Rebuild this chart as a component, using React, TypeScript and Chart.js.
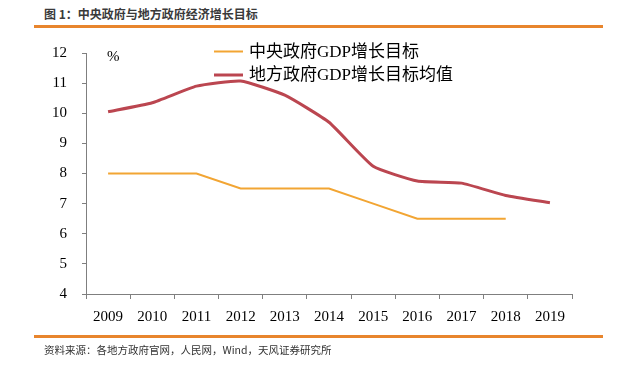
import React, { useEffect, useRef } from "react";
import { Chart, registerables } from "chart.js";

Chart.register(...registerables);

const years = ["2009", "2010", "2011", "2012", "2013", "2014", "2015", "2016", "2017", "2018", "2019"];
const centralTarget = [8, 8, 8, 7.5, 7.5, 7.5, 7, 6.5, 6.5, 6.5, null];
const localTargetAvg = [10.05, 10.35, 10.9, 11.07, 10.6, 9.7, 8.24, 7.75, 7.68, 7.27, 7.03];
const centralLabel = "中央政府GDP增长目标";
const localLabel = "地方政府GDP增长目标均值";
const yTicks = [4, 5, 6, 7, 8, 9, 10, 11, 12];

const ORANGE = "#F2A533";
const RED = "#BB4650";
const AXIS = "#7f7f7f";
const SERIF = "'Liberation Serif', 'Noto Sans CJK SC', serif";

const overlayPlugin = {
  id: "overlay",
  afterDraw(chart: any) {
    const ctx = chart.ctx;
    const area = chart.chartArea;
    ctx.save();
    // unit label
    ctx.fillStyle = "#000";
    ctx.font = "15px " + SERIF;
    ctx.textBaseline = "middle";
    ctx.textAlign = "left";
    ctx.fillText("%", area.left + 21, area.top + 4);
    // legend
    const items = chart.data.datasets.map((d: any) => ({ label: d.label, color: d.borderColor, w: d.borderWidth }));
    items.forEach((it: any, i: number) => {
      const y = area.top - 1.5 + i * 23.5;
      ctx.strokeStyle = it.color;
      ctx.lineWidth = it.w;
      ctx.beginPath();
      ctx.moveTo(area.left + 128, y);
      ctx.lineTo(area.left + 157, y);
      ctx.stroke();
      ctx.fillStyle = "#000";
      ctx.font = "17px " + SERIF;
      ctx.fillText(it.label, area.left + 163, y + 1);
    });
    ctx.restore();
  },
};

function ChartBox() {
  const ref = useRef<HTMLCanvasElement>(null);
  useEffect(() => {
    if (!ref.current) return;
    const chart = new Chart(ref.current, {
      type: "line",
      data: {
        labels: years,
        datasets: [
          {
            label: centralLabel,
            data: centralTarget,
            borderColor: ORANGE,
            backgroundColor: ORANGE,
            borderWidth: 2,
            pointRadius: 0,
            tension: 0,
            spanGaps: false,
          },
          {
            label: localLabel,
            data: localTargetAvg,
            borderColor: RED,
            backgroundColor: RED,
            borderWidth: 3,
            pointRadius: 0,
            tension: 0.15,
          },
        ],
      },
      options: {
        responsive: false,
        animation: false,
        maintainAspectRatio: false,
        layout: { padding: { left: 0, right: 55, top: 53, bottom: 0 } },
        plugins: { legend: { display: false }, tooltip: { enabled: false } },
        scales: {
          x: {
            type: "category",
            offset: true,
            grid: { offset: true, drawOnChartArea: false, drawTicks: true, tickLength: 5, color: AXIS },
            border: { color: AXIS, width: 1 },
            ticks: { color: "#000", font: { family: SERIF, size: 15 }, padding: 9, maxRotation: 0, autoSkip: false },
            afterFit: (s: any) => {
              s.height = 72;
            },
          },
          y: {
            min: 4,
            max: 12,
            afterBuildTicks: (s: any) => {
              s.ticks = yTicks.map((v) => ({ value: v }));
            },
            grid: { drawOnChartArea: false, drawTicks: true, tickLength: 4, color: AXIS },
            border: { color: AXIS, width: 1 },
            ticks: { color: "#000", font: { family: SERIF, size: 15 }, padding: 15 },
            afterFit: (s: any) => {
              s.width = 86;
            },
          },
        },
      },
      plugins: [overlayPlugin],
    } as any);
    return () => chart.destroy();
  }, []);
  return <canvas ref={ref} width={627} height={366} style={{ position: "absolute", left: 0, top: 0, width: 627, height: 366 }} />;
}

export default function App() {
  return (
    <div style={{ position: "fixed", left: 0, top: 0, width: 627, height: 366, background: "#fff", overflow: "hidden" }}>
      <div
        style={{
          position: "absolute",
          left: 44,
          top: 6,
          lineHeight: "16px",
          fontSize: 12,
          fontWeight: "bold",
          color: "#3a3a3a",
          fontFamily: "'Noto Sans CJK SC', sans-serif",
          whiteSpace: "nowrap",
        }}
      >
        图 1：中央政府与地方政府经济增长目标
      </div>
      <div style={{ position: "absolute", left: 34, top: 25, width: 569, height: 3, background: "#E8852D" }} />
      <ChartBox />
      <div style={{ position: "absolute", left: 34, top: 335, width: 569, height: 3, background: "#E8852D" }} />
      <div
        style={{
          position: "absolute",
          left: 44,
          top: 342,
          lineHeight: "16px",
          fontSize: 10.5,
          color: "#333",
          fontFamily: "'Noto Sans CJK SC', sans-serif",
          whiteSpace: "nowrap",
        }}
      >
        资料来源：各地方政府官网，人民网，Wind，天风证券研究所
      </div>
    </div>
  );
}
